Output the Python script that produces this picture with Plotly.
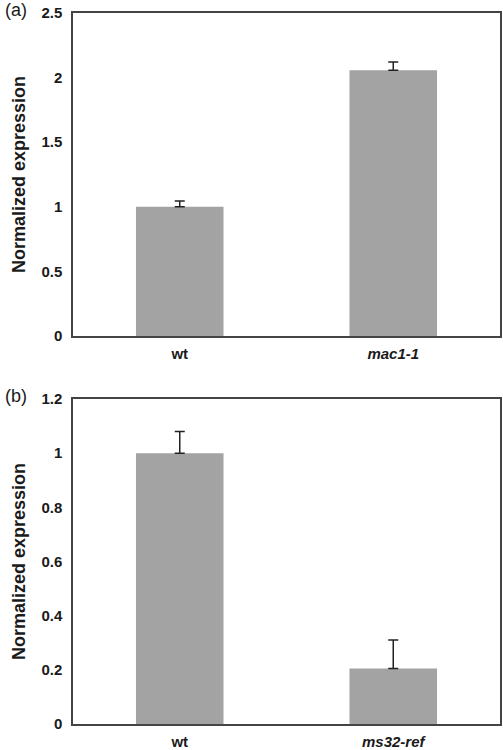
import plotly.graph_objects as go
from plotly.subplots import make_subplots

cats_a = ["wt", "mac1-1"]
vals_a = [1.0, 2.056]
err_a = [0.045, 0.065]
yticks_a = [0, 0.5, 1, 1.5, 2, 2.5]
yticklabels_a = ["0", "0.5", "1", "1.5", "2", "2.5"]

cats_b = ["wt", "ms32-ref"]
vals_b = [1.0, 0.205]
err_b = [0.08, 0.105]
yticks_b = [0, 0.2, 0.4, 0.6, 0.8, 1.0, 1.2]
yticklabels_b = ["0", "0.2", "0.4", "0.6", "0.8", "1", "1.2"]

BAR = "#a3a3a3"
FONT = "Liberation Sans, Arial, sans-serif"
TXT = "#1a1a1a"

fig = make_subplots(rows=2, cols=1, vertical_spacing=0.0886)

for row, cats, vals, errs in [(1, cats_a, vals_a, err_a), (2, cats_b, vals_b, err_b)]:
    fig.add_trace(go.Bar(
        x=cats, y=vals, marker=dict(color=BAR, line=dict(width=0)),
        error_y=dict(type="data", array=errs, arrayminus=[0] * len(errs), symmetric=False,
                     color="#222222", thickness=1.5, width=5),
        showlegend=False), row=row, col=1)

axis_common = dict(showline=True, linecolor="#444444", linewidth=1.5, mirror=True,
                   showgrid=False, zeroline=False, ticks="", automargin=False,
                   tickfont=dict(family=FONT, size=15, color=TXT))

fig.update_xaxes(**axis_common)
fig.update_yaxes(**axis_common)
fig.update_yaxes(range=[0, 2.5], tickvals=yticks_a,
                 ticktext=["<b>%s</b>" % t for t in yticklabels_a], row=1, col=1,
                 ticklabelstandoff=6)
fig.update_yaxes(range=[0, 1.2], tickvals=yticks_b,
                 ticktext=["<b>%s</b>" % t for t in yticklabels_b], row=2, col=1,
                 ticklabelstandoff=6)
for r in (1, 2):
    fig.update_yaxes(title=dict(text="<b>Normalized expression</b>",
                                font=dict(family=FONT, size=18, color=TXT), standoff=11),
                     row=r, col=1)
fig.update_xaxes(ticklabelstandoff=3)
fig.update_xaxes(tickvals=cats_a, ticktext=["<b>wt</b>", "<b><i>mac1-1</i></b>"], row=1, col=1)
fig.update_xaxes(tickvals=cats_b, ticktext=["<b>wt</b>", "<b><i>ms32-ref</i></b>"], row=2, col=1)

fig.update_layout(
    width=503, height=750,
    margin=dict(l=73, r=3, t=13, b=26, autoexpand=False),
    bargap=0.59,
    plot_bgcolor="white", paper_bgcolor="white",
    font=dict(family=FONT, color=TXT),
)
fig.update_layout(yaxis=dict(domain=[0.5457, 1.0]), yaxis2=dict(domain=[0.0, 0.4571]))

fig.add_annotation(text="(a)", xref="paper", yref="paper", x=-70 / 427, y=1.0 + 3 / 711,
                   xanchor="left", yanchor="middle", showarrow=False,
                   font=dict(family=FONT, size=18, color=TXT))
fig.add_annotation(text="(b)", xref="paper", yref="paper", x=-70 / 427, y=0.4571 + 3 / 711,
                   xanchor="left", yanchor="middle", showarrow=False,
                   font=dict(family=FONT, size=18, color=TXT))

fig.write_html("out.html", config={"displayModeBar": False},
               post_script="document.body.style.margin='0';document.body.style.overflow='hidden';")
